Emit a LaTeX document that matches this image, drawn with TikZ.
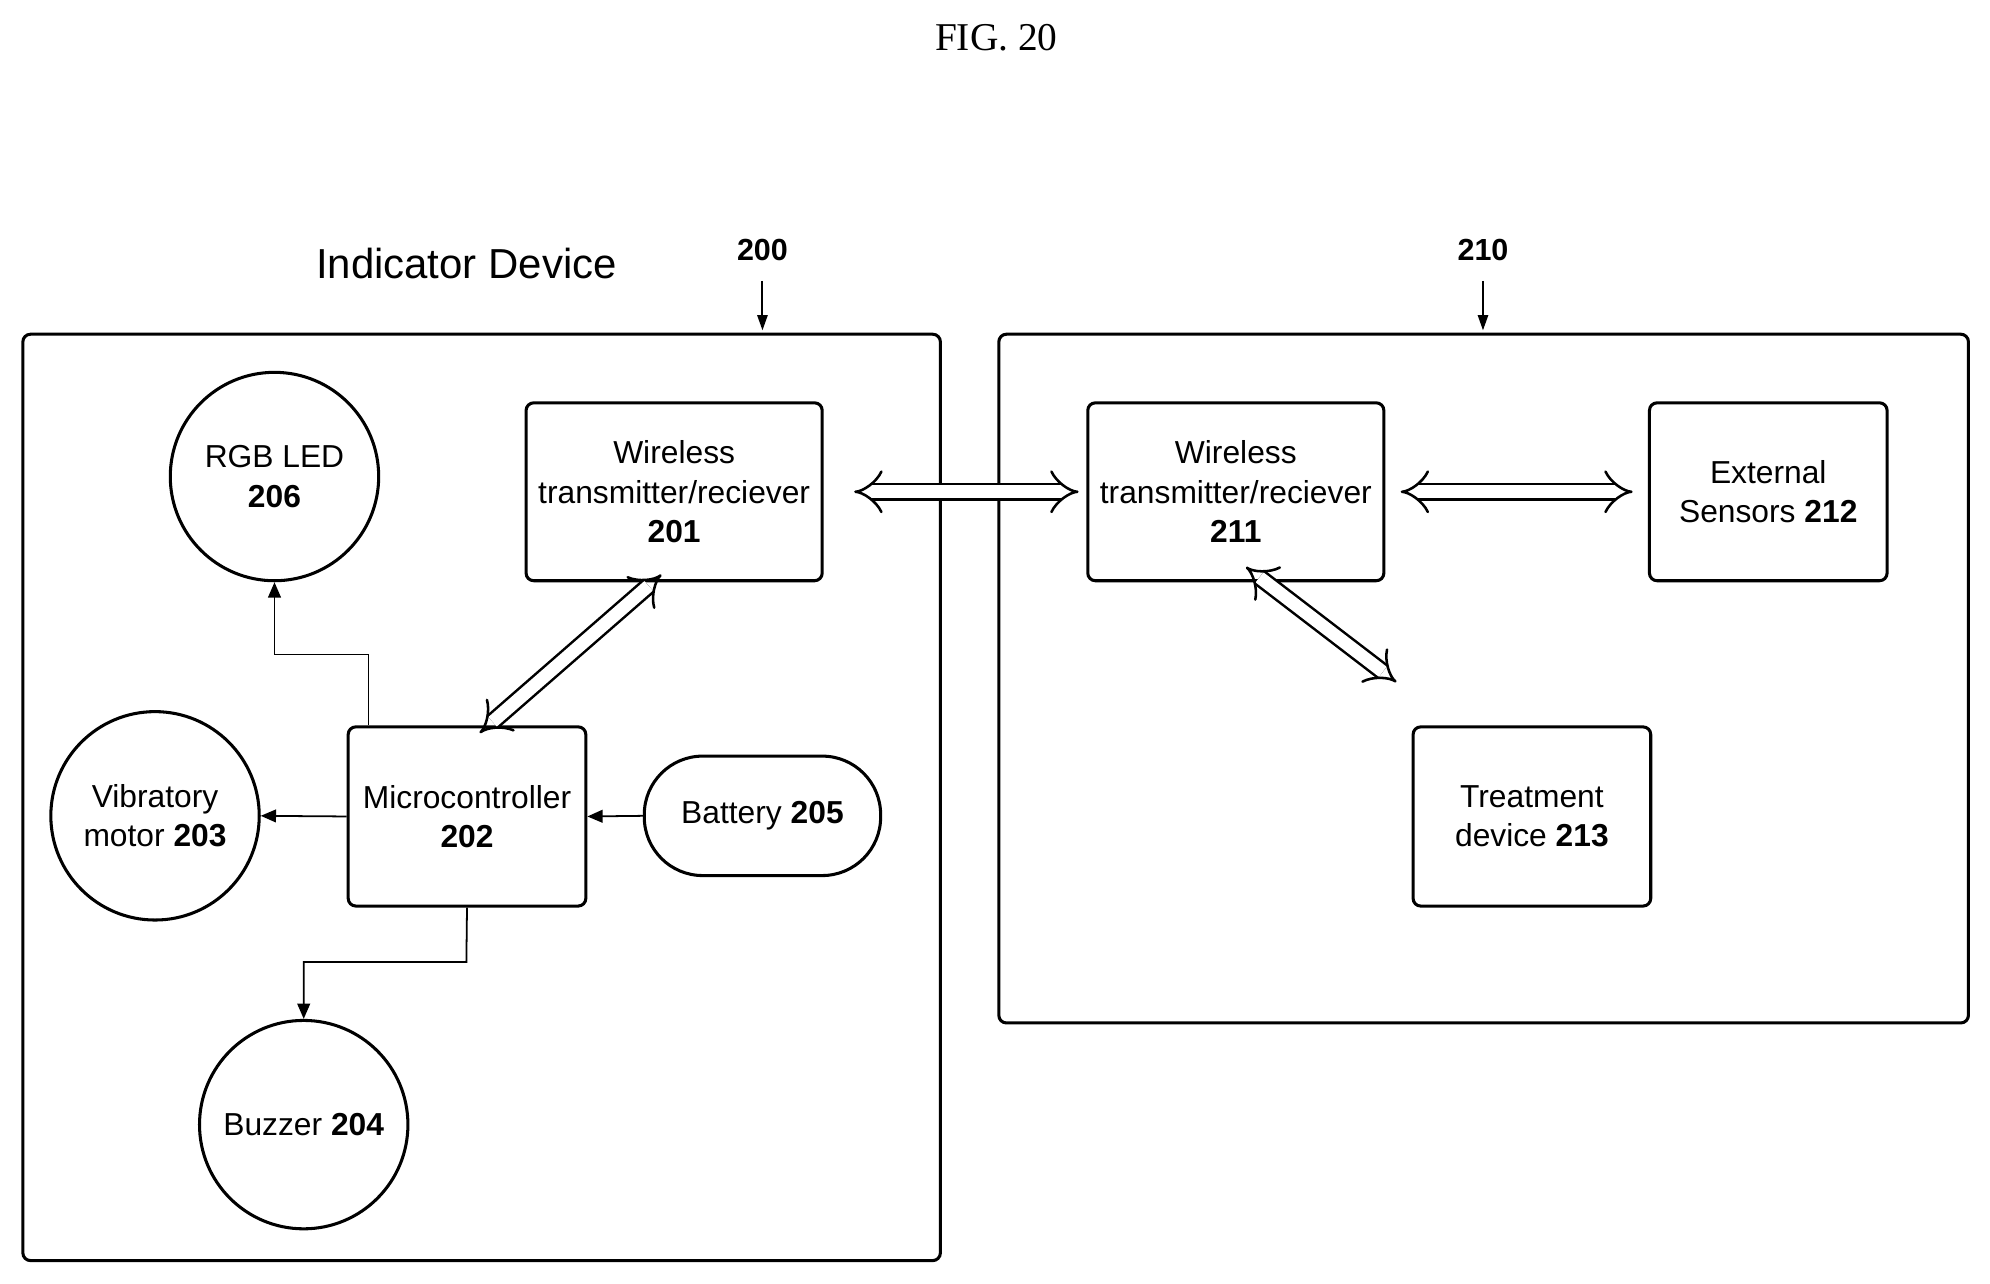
\documentclass[tikz,border=0pt]{standalone}
\usepackage{fontspec}
\setmainfont{Liberation Sans}
\newfontfamily\figfont{Liberation Serif}
\usetikzlibrary{arrows.meta}
\begin{document}
\begin{tikzpicture}[x=0.5pt,y=-0.5pt,
  every node/.style={font=\fontsize{12.5}{15.5}\selectfont, align=center, inner sep=0pt},
  box/.style={draw, line width=1.2pt, rounded corners=3pt},
  rect/.style={draw, line width=1.2pt, rounded corners=3pt},
  circ/.style={draw, circle, line width=1.2pt, minimum size=82pt},
  conn/.style={line width=0.7pt, -{Triangle[length=6pt,width=5pt]}},
  hollow/.style={line width=1pt, double, double distance=5pt, {Implies[]}-{Implies[]}},
  ptr/.style={line width=0.8pt, -{Triangle[length=6pt,width=4pt]}}]
\useasboundingbox (0,0) rectangle (1566,1010);
\node[font=\figfont\fontsize{15.5}{18}\selectfont] (fig) at (784,30) {FIG. 20};
\node[font=\fontsize{16.5}{20}\selectfont] (title) at (367,207) {Indicator Device};
\node[font=\bfseries\fontsize{12}{14}\selectfont] (n200) at (600,197) {200};
\node[font=\bfseries\fontsize{12}{14}\selectfont] (n210) at (1167,197) {210};
\draw[box] (18,263) rectangle (740,992);
\draw[box] (786,263) rectangle (1549,805);
\coordinate (b200) at (600,260);
\coordinate (b210) at (1167,260);
\draw[ptr] (n200) ++(0,24) -- (b200);
\draw[ptr] (n210) ++(0,24) -- (b210);
\node[circ] (led) at (216,375) {RGB LED\\\textbf{206}};
\node[rect, minimum width=116.5pt, minimum height=70pt] (w201) at (530.5,387) {Wireless\\transmitter/reciever\\\textbf{201}};
\node[circ] (vib) at (122,642) {Vibratory\\motor \textbf{203}};
\node[rect, minimum width=93.5pt, minimum height=70.5pt] (mc) at (367.5,642.5) {Microcontroller\\\textbf{202}};
\node[draw, line width=1.2pt, rounded corners=23pt, minimum width=93pt, minimum height=47pt] (bat) at (600,642) {Battery \textbf{205}};
\node[circ] (buz) at (239,885) {Buzzer \textbf{204}};
\node[rect, minimum width=116.5pt, minimum height=70pt] (w211) at (972.5,387) {Wireless\\transmitter/reciever\\\textbf{211}};
\node[rect, minimum width=93.5pt, minimum height=70pt] (ext) at (1391.5,387) {External\\Sensors \textbf{212}};
\node[rect, minimum width=93.5pt, minimum height=70.5pt] (trt) at (1205.5,642.5) {Treatment\\device \textbf{213}};
\draw[conn] (mc.north -| 290,0) -- (290,515) -- (216,515) -- (led.south);
\draw[conn] (mc.west) -- (vib.east);
\draw[conn] (bat.west) -- (mc.east);
\draw[conn] (mc.south) -- (367,757) -- (239,757) -- (buz.north);
\draw[hollow, shorten <=12pt, shorten >=3pt] (w201.east) -- (w211.west);
\draw[hollow, shorten <=6pt, shorten >=6pt] (w211.east) -- (ext.west);
\draw[hollow] ([xshift=-5pt,yshift=3pt]w201.south) -- ([xshift=5pt,yshift=-3pt]mc.north);
\draw[hollow] ([xshift=4pt,yshift=6pt]w211.south) -- ([xshift=-6pt,yshift=17pt]trt.north west);
\end{tikzpicture}
\end{document}
